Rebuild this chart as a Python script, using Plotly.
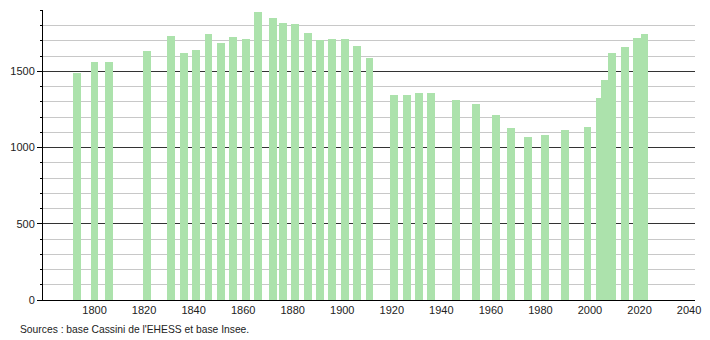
import plotly.graph_objects as go

years = [1793, 1800, 1806, 1821, 1831, 1836, 1841, 1846, 1851, 1856, 1861, 1866,
         1872, 1876, 1881, 1886, 1891, 1896, 1901, 1906, 1911, 1921, 1926, 1931,
         1936, 1946, 1954, 1962, 1968, 1975, 1982, 1990, 1999, 2004, 2006, 2009,
         2014, 2019, 2022]
population = [1487, 1559, 1563, 1634, 1730, 1618, 1640, 1743, 1688, 1724, 1711, 1886,
              1849, 1820, 1809, 1754, 1702, 1715, 1715, 1667, 1590, 1346, 1345, 1355,
              1355, 1309, 1283, 1211, 1125, 1072, 1079, 1112, 1137, 1327, 1441, 1618,
              1662, 1721, 1743]
x_ticks = [1800, 1820, 1840, 1860, 1880, 1900, 1920, 1940, 1960, 1980, 2000, 2020, 2040]
y_ticks = [0, 500, 1000, 1500]
source_text = "Sources : base Cassini de l'EHESS et base Insee."

fig = go.Figure()
fig.add_trace(go.Bar(
    x=years, y=population, width=3.2,
    marker=dict(color="rgb(172,226,172)", line=dict(width=0)),
    hoverinfo="x+y",
))

font = dict(family="Liberation Sans, Arial, sans-serif", size=11, color="#222")

fig.update_layout(
    width=710, height=340,
    margin=dict(l=43, r=9, t=10, b=40),
    paper_bgcolor="white", plot_bgcolor="white",
    showlegend=False,
    font=font,
    bargap=0,
    xaxis=dict(
        range=[1779.2, 2042.4],
        tickvals=x_ticks,
        ticks="", showgrid=False, zeroline=False,
        showline=True, linecolor="#000", linewidth=1,
        tickfont=font,
        fixedrange=True,
    ),
    yaxis=dict(
        range=[0, 1902],
        tickvals=y_ticks,
        ticks="outside", ticklen=5, tickcolor="#000",
        showgrid=True, gridcolor="#333", gridwidth=1,
        zeroline=False,
        showline=True, linecolor="#000", linewidth=1,
        tickfont=font,
        minor=dict(dtick=100, ticks="outside", ticklen=2, tickcolor="#000",
                   showgrid=True, gridcolor="#c8c8c8", gridwidth=1),
        fixedrange=True,
    ),
    annotations=[dict(
        text=source_text, xref="paper", yref="paper",
        x=-0.039, y=-0.077, xanchor="left", yanchor="top",
        showarrow=False, font=dict(family="Liberation Sans, Arial, sans-serif", size=10.3, color="#222"),
    )],
)

fig.write_html("out.html")
